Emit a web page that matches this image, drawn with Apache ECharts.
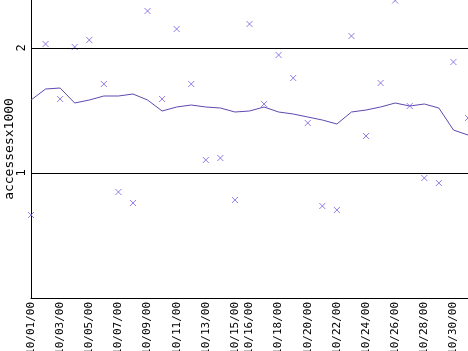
<!DOCTYPE html>
<html>
<head>
<meta charset="utf-8">
<script src="https://cdn.jsdelivr.net/npm/echarts@6/dist/echarts.min.js"></script>
<style>html,body{margin:0;padding:0;background:#fff}#c{width:468px;height:351px}</style>
</head>
<body>
<div id="c"></div>
<script>
const categories = ['10/01/00','10/02/00','10/03/00','10/04/00','10/05/00','10/06/00','10/07/00','10/08/00','10/09/00','10/10/00','10/11/00','10/12/00','10/13/00','10/14/00','10/15/00','10/16/00','10/17/00','10/18/00','10/19/00','10/20/00','10/21/00','10/22/00','10/23/00','10/24/00','10/25/00','10/26/00','10/27/00','10/28/00','10/29/00','10/30/00','10/31/00'];
const shownLabels = ['10/01/00','10/03/00','10/05/00','10/07/00','10/09/00','10/11/00','10/13/00','10/15/00','10/16/00','10/18/00','10/20/00','10/22/00','10/24/00','10/26/00','10/28/00','10/30/00'];
const dailyAccesses = [0.664,2.032,1.592,2.008,2.064,1.712,0.848,0.76,2.296,1.592,2.152,1.712,1.104,1.12,0.784,2.192,1.552,1.944,1.76,1.4,0.736,0.704,2.096,1.296,1.72,2.38,1.536,0.96,0.92,1.888,1.44];
const averageAccesses = [1.584,1.672,1.68,1.56,1.584,1.616,1.616,1.632,1.584,1.496,1.528,1.544,1.528,1.52,1.488,1.496,1.528,1.488,1.472,1.448,1.424,1.392,1.488,1.504,1.528,1.56,1.536,1.552,1.52,1.344,1.304];
const yTicks = [1, 2];

const font = 'DejaVu Sans Mono';
const chart = echarts.init(document.getElementById('c'), null, {renderer: 'canvas'});
chart.setOption({
  animation: false,
  grid: {left: 31, right: 0, top: 0, bottom: 53, containLabel: false, outerBoundsMode: 'none'},
  xAxis: {
    type: 'category', data: categories, boundaryGap: false,
    axisLine: {lineStyle: {color: '#000', width: 1}},
    axisTick: {show: false},
    axisLabel: {rotate: 90, margin: 4, color: '#000', fontFamily: font, fontSize: 11,
      interval: (i, v) => shownLabels.includes(v)},
    splitLine: {show: false}
  },
  yAxis: {
    type: 'value', min: 0, max: 2.384, interval: 1,
    name: 'accessesx1000', nameLocation: 'middle', nameRotate: 90, nameGap: 15, nameMoveOverlap: false,
    nameTextStyle: {color: '#000', fontFamily: font, fontSize: 13},
    axisLine: {show: true, lineStyle: {color: '#000', width: 1}},
    axisTick: {show: false},
    axisLabel: {rotate: 90, margin: 3, color: '#000', fontFamily: font, fontSize: 12,
      formatter: v => yTicks.includes(v) ? String(v) : ''},
    splitLine: {show: false}
  },
  series: [
    {
      type: 'line', data: averageAccesses, showSymbol: false, symbol: 'none',
      lineStyle: {color: '#6048b0', width: 1}, z: 3,
      markLine: {silent: true, symbol: 'none', label: {show: false},
        lineStyle: {color: '#000', width: 1, type: 'solid'},
        data: yTicks.map(t => ({yAxis: t}))}
    },
    {
      type: 'scatter', data: dailyAccesses, symbol: 'path://M0,0L10,10M10,0L0,10', symbolSize: 6,
      itemStyle: {color: 'none', borderColor: '#7a5ae0', borderWidth: 1}, z: 4
    }
  ]
});
</script>
</body>
</html>
